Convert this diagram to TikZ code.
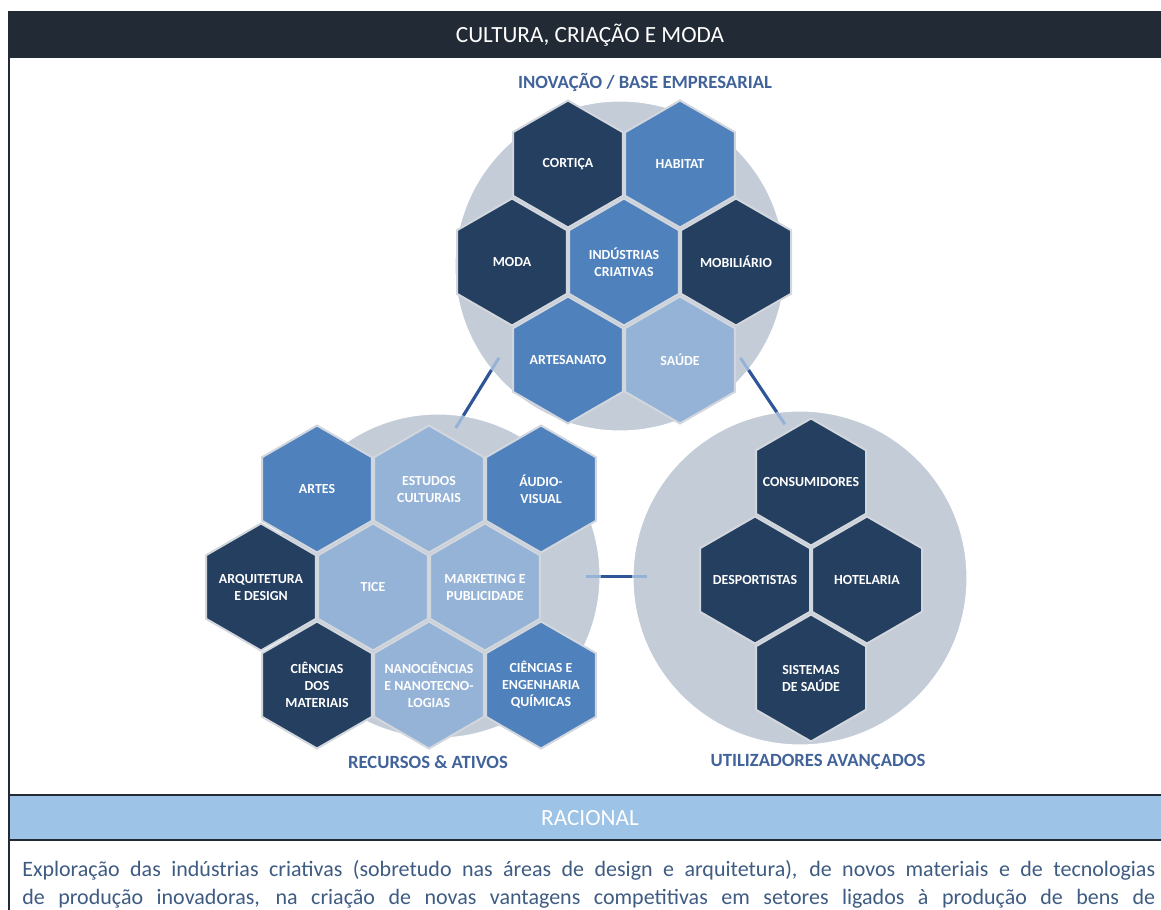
\documentclass[tikz,border=0pt]{standalone}
\usepackage{fontspec}
\setmainfont{Carlito}
\usetikzlibrary{
  positioning,
  shapes.geometric
}
\definecolor{headbar}{HTML}{222A35}
\definecolor{racbar}{HTML}{9DC3E6}
\definecolor{hexdark}{HTML}{253F60}
\definecolor{hexmid}{HTML}{4F81BD}
\definecolor{hexlight}{HTML}{95B3D7}
\definecolor{ringfill}{HTML}{C4CCD8}
\definecolor{hexline}{HTML}{D2D6DD}
\definecolor{labelblue}{HTML}{41639A}
\definecolor{linkblue}{HTML}{2F5597}
\definecolor{bodytext}{HTML}{3E5B82}
\tikzset{
  node distance=73.5pt and 84pt,
  on grid,
  % styles
  hex/.style={
    regular polygon,
    regular polygon sides=6,
    shape border rotate=30,
    minimum size=95.25pt,
    inner xsep=-8pt,
    inner ysep=0pt,
    outer sep=0pt,
    draw=hexline,
    line width=1.5pt,
    text=white,
    align=center,
    font=\fontsize{10.4pt}{12.75pt}\selectfont\bfseries,
  },
  dark hex/.style={hex, fill=hexdark},
  mid hex/.style={hex, fill=hexmid},
  light hex/.style={hex, fill=hexlight},
  ring/.style={
    circle,
    fill=ringfill,
    draw=white,
    line width=0.8pt,
    inner sep=0pt,
  },
  ring label/.style={
    text=labelblue,
    font=\fontsize{14pt}{16pt}\selectfont\bfseries,
  },
  bar title/.style={
    text=white,
    font=\fontsize{17.4pt}{20pt}\selectfont,
  },
  link light/.style={
    draw=hexlight,
    line width=2.25pt,
    shorten <=-11pt,
    shorten >=-11pt,
  },
  link dark/.style={
    draw=linkblue,
    line width=2.25pt,
  },
  frame/.style={
    draw=headbar,
    line width=1.5pt,
  },
}

\begin{document}
\begin{tikzpicture}[x=0.75pt,y=-0.75pt]
  \useasboundingbox (0,0) rectangle (1161,910);
  \clip (0,0) rectangle (1161,910);

  % table frame
  \fill [headbar] (9,11) rectangle (1161,58);
  \fill [racbar] (9,795) rectangle (1161,840);
  \draw [frame] (9,11) -- (9,910);
  \draw [frame] (9,795) -- (1161,795);
  \draw [frame] (9,840) -- (1161,840);
  \node [bar title] (title) at (590,35)  {CULTURA, CRIAÇÃO E MODA};
  \node [bar title] (rac)   at (590,818) {RACIONAL};

  % rings
  \node [ring, minimum size=247.5pt] (inov) at (620,266) {};
  \node [ring, minimum size=243pt]   (recu) at (438,576) {};
  \node [ring, minimum size=250.5pt] (util) at (800,578) {};

  % links
  \draw [link light] (inov.219) -- (recu.81);
  \draw [link dark]  (inov.219) -- (recu.81);
  \draw [link light] (inov.321) -- (util.98);
  \draw [link dark]  (inov.321) -- (util.98);
  \draw [link light] (recu.east) -- (recu.east -| util.west);
  \draw [link dark]  (recu.east) -- (recu.east -| util.west);

  % inovacao
  \node [mid hex]   (ind)  at (624,262)                       {INDÚSTRIAS\\CRIATIVAS};
  \node [dark hex]  (cort) [above left=73.5pt and 42pt of ind] {CORTIÇA};
  \node [mid hex]   (habi) [right=of cort]                     {HABITAT};
  \node [dark hex]  (moda) [left=of ind]                       {MODA};
  \node [dark hex]  (mobi) [right=of ind]                      {MOBILIÁRIO};
  \node [mid hex]   (arte) [below left=73.5pt and 42pt of ind] {ARTESANATO};
  \node [light hex] (saud) [right=of arte]                     {SAÚDE};

  % recursos
  \node [light hex] (tice) at (373,587)                         {TICE};
  \node [light hex] (estu) [above right=73.5pt and 42pt of tice] {ESTUDOS\\CULTURAIS};
  \node [mid hex]   (arts) [left=of estu]                        {ARTES};
  \node [mid hex]   (audi) [right=of estu]                       {ÁUDIO-\\VISUAL};
  \node [light hex] (mark) [right=of tice]                       {MARKETING E\\PUBLICIDADE};
  \node [dark hex]  (arqu) [left=of tice]                        {ARQUITETURA\\E DESIGN};
  \node [light hex] (nano) [below right=73.5pt and 42pt of tice] {NANOCIÊNCIAS\\E NANOTECNO-\\LOGIAS};
  \node [dark hex]  (cmat) [left=of nano]                        {CIÊNCIAS\\DOS\\MATERIAIS};
  \node [mid hex]   (cqui) [right=of nano]                       {CIÊNCIAS E\\ENGENHARIA\\QUÍMICAS};

  % utilizadores
  \node [dark hex] (desp) at (755,580)                          {DESPORTISTAS};
  \node [dark hex] (cons) [above right=73.5pt and 42pt of desp] {CONSUMIDORES};
  \node [dark hex] (hote) [right=of desp]                       {HOTELARIA};
  \node [dark hex] (sist) [below right=73.5pt and 42pt of desp] {SISTEMAS\\DE SAÚDE};

  % ring labels
  \node [ring label] (linov) at (645,82)  {INOVAÇÃO / BASE EMPRESARIAL};
  \node [ring label] (lrecu) at (428,762) {RECURSOS \& ATIVOS};
  \node [ring label] (lutil) at (818,762) {UTILIZADORES AVANÇADOS};

  % racional
  \node [anchor=north west, inner sep=0pt, text width=849.75pt, align=justify,
         text=bodytext, font=\fontsize{16.5pt}{21pt}\selectfont] (para) at (22,860)
    {\noindent\parfillskip=0pt Exploração das indústrias criativas (sobretudo nas áreas de design e arquitetura), de novos materiais e de tecnologias\linebreak
     de produção inovadoras, na criação de novas vantagens competitivas em setores ligados à produção de bens de\par};
\end{tikzpicture}
\end{document}
